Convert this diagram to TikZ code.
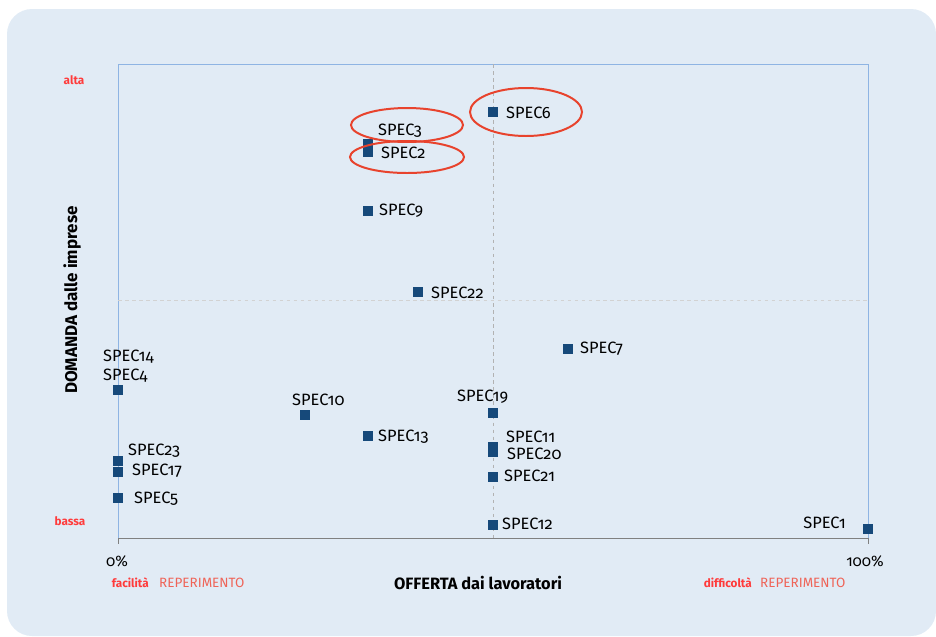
\documentclass[tikz,border=0pt]{standalone}
\usepackage{fontspec}
\setmainfont{Fira Sans}[Numbers=OldStyle]
\usepackage{tikz}
\usetikzlibrary{shapes.geometric}
\definecolor{bgblue}{HTML}{E1EBF5}
\definecolor{frameblue}{HTML}{8EB4E3}
\definecolor{ptblue}{HTML}{16497A}
\definecolor{hotred}{HTML}{FF3B3B}
\definecolor{softred}{HTML}{EF6458}
\definecolor{ringred}{HTML}{E8432D}

\begin{document}
\begin{tikzpicture}[x=0.3mm,y=-0.3mm,
    pt/.style={fill=ptblue,minimum size=3.1mm,inner sep=0pt},
    spec/.style={font=\fontsize{14}{16}\selectfont,inner sep=0pt,anchor=west},
    ring/.style={draw=ringred,line width=1.7pt,ellipse,inner sep=0pt},
    ends/.style={font=\bfseries\fontsize{10}{11}\selectfont,text=hotred,inner sep=0pt}]
            \useasboundingbox (0,0) rectangle (936,636);
            \fill[bgblue,rounded corners=7.5mm] (7,9) rectangle (936,636);
            % frame and quadrants
            \draw[frameblue,thick] (118,538)--(118,64)--(868,64)--(868,538);
            \draw[gray!60,dashed,thick] (493,64)--(493,538);
            \draw[gray!35,dashed,thick] (118,300)--(868,300);
            \draw[gray,thick] (118,538)--(868,538);
            \draw[gray,thick] (118,538)--(118,544);
            \draw[gray,thick] (868,538)--(868,544);
            % axes text
            \node[ends] (alta) at (74,80) {alta};
            \node[ends] (bassa) at (70,521) {bassa};
            \node[font=\fontsize{13}{14}\selectfont] (zero) at (117,561) {0\%};
            \node[font=\fontsize{13}{14}\selectfont] (full) at (865,561) {100\%};
            \node[font=\bfseries\fontsize{14}{16}\selectfont] (offer) at (478,583) {OFFERTA dai lavoratori};
            \node[font=\bfseries\fontsize{14.5}{16}\selectfont,rotate=90] (demand) at (72,300) {DOMANDA dalle imprese};
            \node[ends,anchor=east] (easy) at (149,583) {facilità};
            \node[font=\fontsize{11.5}{13}\selectfont,text=softred,anchor=west,inner sep=0pt] (easyr) at (159,583) {REPERIMENTO};
            \node[ends,anchor=east] (hard) at (752,583) {difficoltà};
            \node[font=\fontsize{11.5}{13}\selectfont,text=softred,anchor=west,inner sep=0pt] (hardr) at (760,583) {REPERIMENTO};
            % points
            \node[pt] (p6) at (493,112) {};   \node[spec] (l6) at (506,113) {SPEC6};
            \node[pt] (p3) at (368,144) {};   \node[spec] (l3) at (378,131) {SPEC3};
            \node[pt] (p2) at (368,152) {};   \node[spec] (l2) at (381,153) {SPEC2};
            \node[pt] (p9) at (368,211) {};   \node[spec] (l9) at (379,211) {SPEC9};
            \node[pt] (p22) at (418,292) {};  \node[spec] (l22) at (431,293) {SPEC22};
            \node[pt] (p7) at (568,349) {};   \node[spec] (l7) at (580,349) {SPEC7};
            \node[pt] (p4) at (118,390) {};   \node[spec] (l14) at (103,357) {SPEC14};
                                              \node[spec] (l4) at (103,376) {SPEC4};
            \node[pt] (p10) at (305,415) {};  \node[spec] (l10) at (292,400) {SPEC10};
            \node[pt] (p13) at (368,436) {};  \node[spec] (l13) at (378,437) {SPEC13};
            \node[pt] (p19) at (493,413) {};  \node[spec] (l19) at (457,397) {SPEC19};
            \node[pt] (p11) at (493,447) {};  \node[spec] (l11) at (506,437) {SPEC11};
            \node[pt] (p20) at (493,452) {};  \node[spec] (l20) at (507,454) {SPEC20};
            \node[pt] (p21) at (493,477) {};  \node[spec] (l21) at (504,476) {SPEC21};
            \node[pt] (p12) at (493,525) {};  \node[spec] (l12) at (502,524) {SPEC12};
            \node[pt] (p23) at (118,461) {};  \node[spec] (l23) at (128,451) {SPEC23};
            \node[pt] (p17) at (118,472) {};  \node[spec] (l17) at (132,471) {SPEC17};
            \node[pt] (p5) at (118,498) {};   \node[spec] (l5) at (134,499) {SPEC5};
            \node[pt] (p1) at (868,529) {};   \node[spec,anchor=east] (l1) at (846,523) {SPEC1};
            % highlighted ones
            \node[ring,minimum width=33.6mm,minimum height=10.2mm] (r3) at (407,125) {};
            \node[ring,minimum width=34.2mm,minimum height=9.6mm] (r2) at (407,157) {};
            \node[ring,minimum width=33.6mm,minimum height=14.4mm] (r6) at (526,112) {};
        \end{tikzpicture}
\end{document}
